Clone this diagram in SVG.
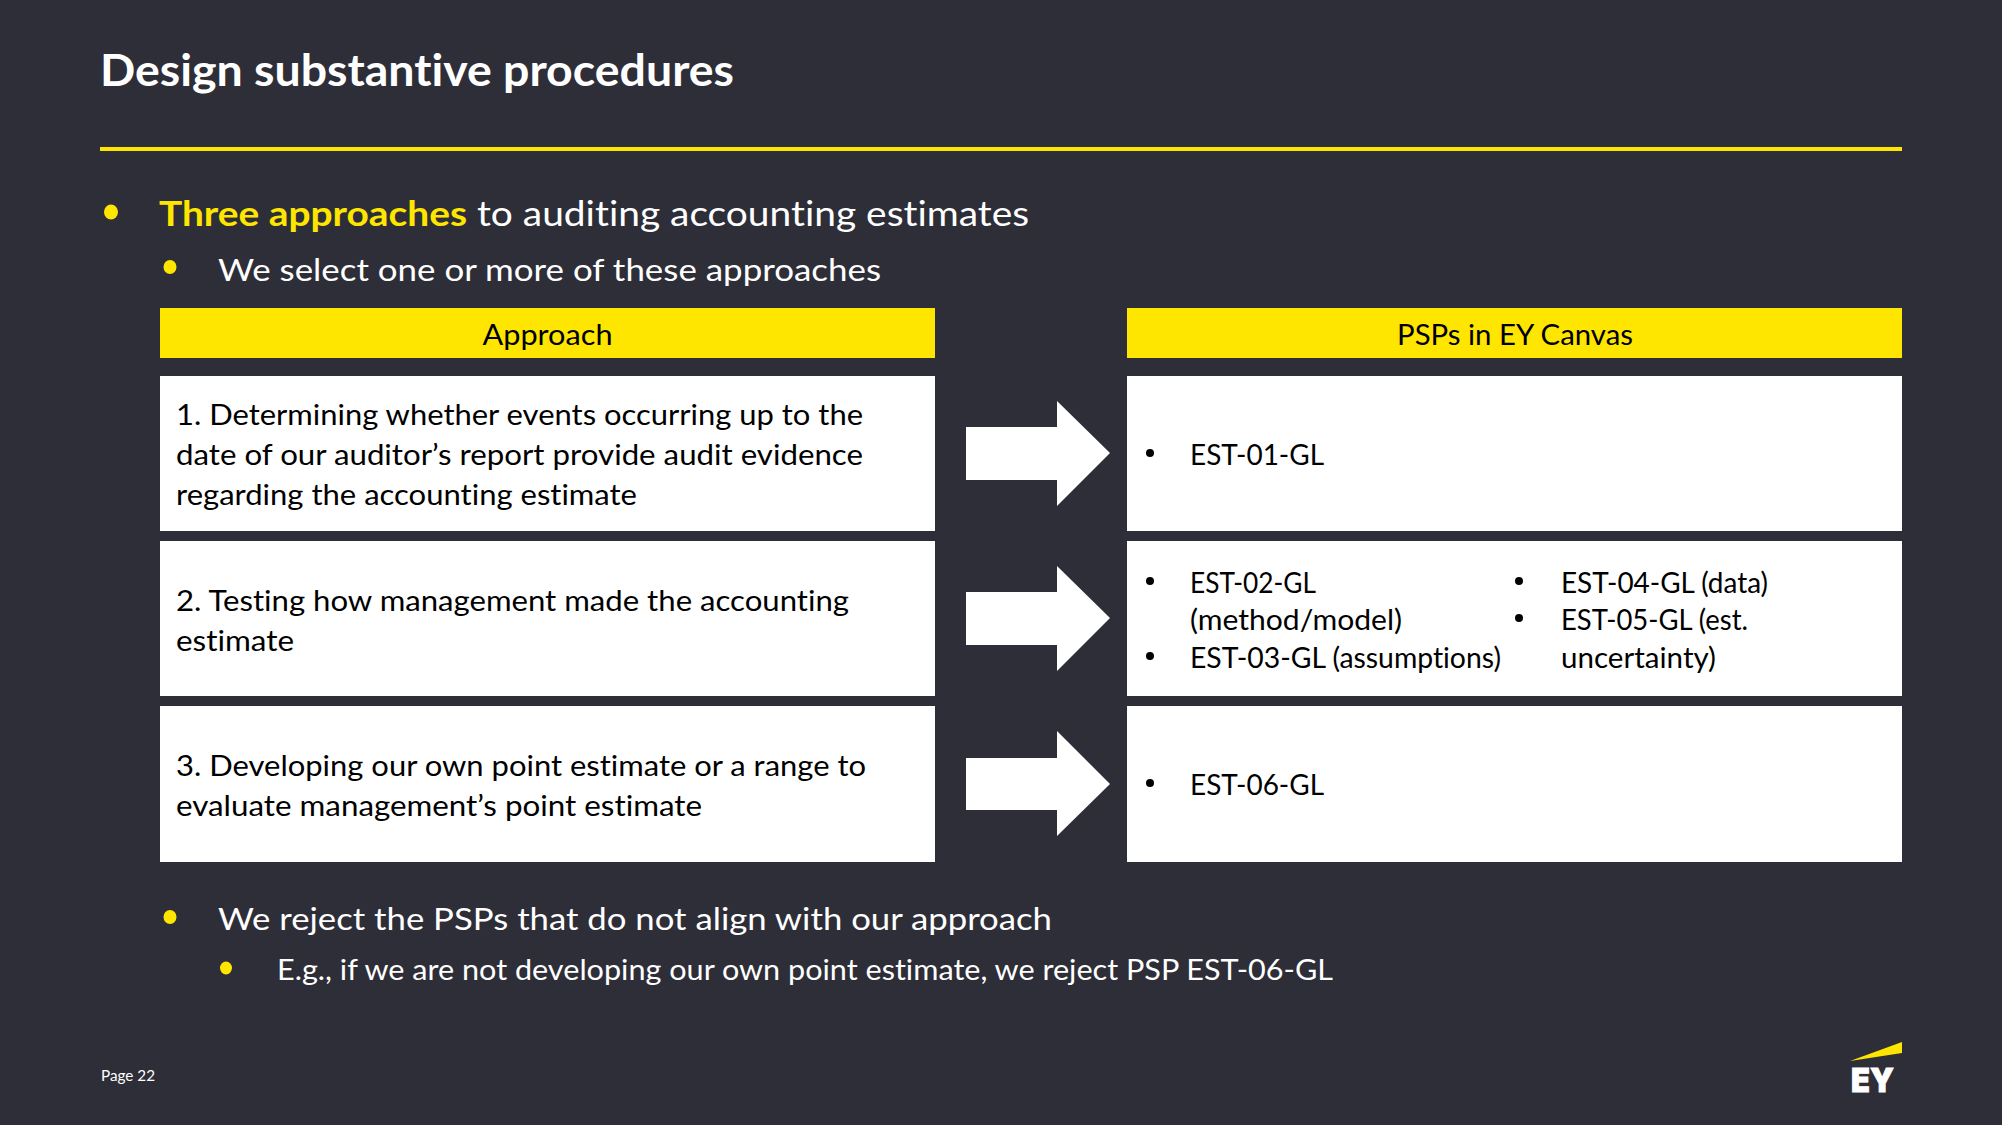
<svg xmlns="http://www.w3.org/2000/svg" width="2002" height="1125" viewBox="0 0 2002 1125">
<style>
text{font-family:"Lato","Noto Sans","Liberation Sans",sans-serif;font-size:28.5px;fill:#000;white-space:pre;font-variant-ligatures:none}
.w{fill:#fff}.y{fill:#FFE600}.box{fill:#fff}.hd{fill:#FFE600}.ar{fill:#fff}.bk{fill:#000}
.t{font-size:43px;font-weight:700;fill:#fff}
.l1{font-size:34px}.l2{font-size:31px}.l3{font-size:29px}
</style>
<rect width="2002" height="1125" fill="#2E2E38"/>
<g id="title">
<text class="t" x="100" y="86" textLength="634" lengthAdjust="spacingAndGlyphs">Design substantive procedures</text>
<rect class="y" x="100" y="147" width="1802" height="4"/>
</g>
<g id="intro">
<ellipse class="y" cx="111" cy="212" rx="7" ry="7.5"/>
<text class="l1 y" style="font-weight:700" x="159" y="226" textLength="308" lengthAdjust="spacingAndGlyphs">Three approaches</text>
<text class="l1 w" x="477" y="226" textLength="552" lengthAdjust="spacingAndGlyphs">to auditing accounting estimates</text>
<ellipse class="y" cx="170" cy="267" rx="6.5" ry="7"/>
<text class="l2 w" x="218" y="281" textLength="663" lengthAdjust="spacingAndGlyphs">We select one or more of these approaches</text>
</g>
<g id="header-approach">
<rect class="hd" x="160" y="308" width="775" height="50"/>
<text x="547.5" y="345" text-anchor="middle" textLength="130" lengthAdjust="spacingAndGlyphs">Approach</text>
</g>
<g id="header-psps">
<rect class="hd" x="1127" y="308" width="775" height="50"/>
<text x="1515" y="345" text-anchor="middle" textLength="236" lengthAdjust="spacingAndGlyphs">PSPs in EY Canvas</text>
</g>
<g id="approach-1">
<rect class="box" x="160" y="376" width="775" height="155"/>
<text x="176" y="425" textLength="687" lengthAdjust="spacingAndGlyphs">1. Determining whether events occurring up to the</text>
<text x="176" y="465" textLength="687" lengthAdjust="spacingAndGlyphs">date of our auditor’s report provide audit evidence</text>
<text x="176" y="505" textLength="461" lengthAdjust="spacingAndGlyphs">regarding the accounting estimate</text>
</g>
<g id="approach-2">
<rect class="box" x="160" y="541" width="775" height="155"/>
<text x="176" y="611" textLength="673" lengthAdjust="spacingAndGlyphs">2. Testing how management made the accounting</text>
<text x="176" y="651" textLength="118" lengthAdjust="spacingAndGlyphs">estimate</text>
</g>
<g id="approach-3">
<rect class="box" x="160" y="706" width="775" height="156"/>
<text x="176" y="776" textLength="690" lengthAdjust="spacingAndGlyphs">3. Developing our own point estimate or a range to</text>
<text x="176" y="816" textLength="526" lengthAdjust="spacingAndGlyphs">evaluate management’s point estimate</text>
</g>
<g id="psp-1">
<rect class="box" x="1127" y="376" width="775" height="155"/>
<circle class="bk" cx="1150" cy="453" r="4"/>
<text x="1190" y="465" textLength="134" lengthAdjust="spacingAndGlyphs">EST-01-GL</text>
</g>
<g id="psp-2">
<rect class="box" x="1127" y="541" width="775" height="155"/>
<circle class="bk" cx="1150" cy="581" r="4"/>
<text x="1190" y="592.5" textLength="126" lengthAdjust="spacingAndGlyphs">EST-02-GL</text>
<text x="1190" y="630" textLength="212" lengthAdjust="spacingAndGlyphs">(method/model)</text>
<circle class="bk" cx="1150" cy="656" r="4"/>
<text x="1190" y="668" textLength="311" lengthAdjust="spacingAndGlyphs">EST-03-GL (assumptions)</text>
<circle class="bk" cx="1519" cy="581" r="4"/>
<text x="1561" y="592.5" textLength="207" lengthAdjust="spacingAndGlyphs">EST-04-GL (data)</text>
<circle class="bk" cx="1519" cy="618" r="4"/>
<text x="1561" y="630" textLength="187" lengthAdjust="spacingAndGlyphs">EST-05-GL (est.</text>
<text x="1561" y="668" textLength="155" lengthAdjust="spacingAndGlyphs">uncertainty)</text>
</g>
<g id="psp-3">
<rect class="box" x="1127" y="706" width="775" height="156"/>
<circle class="bk" cx="1150" cy="783" r="4"/>
<text x="1190" y="795" textLength="134" lengthAdjust="spacingAndGlyphs">EST-06-GL</text>
</g>
<g id="connectors">
<polygon class="ar" points="966,427 1057,427 1057,401 1110,453 1057,506 1057,480 966,480"/>
<polygon class="ar" points="966,592 1057,592 1057,566 1110,618 1057,671 1057,645 966,645"/>
<polygon class="ar" points="966,758 1057,758 1057,731 1110,784 1057,836 1057,810 966,810"/>
</g>
<g id="closing">
<ellipse class="y" cx="170" cy="917" rx="6.5" ry="7"/>
<text class="l2 w" x="218" y="930" textLength="834" lengthAdjust="spacingAndGlyphs">We reject the PSPs that do not align with our approach</text>
<ellipse class="y" cx="226" cy="968" rx="6" ry="6.5"/>
<text class="l3 w" x="277" y="980" textLength="1056" lengthAdjust="spacingAndGlyphs">E.g., if we are not developing our own point estimate, we reject PSP EST-06-GL</text>
</g>
<g id="footer">
<text class="w" style="font-size:14.5px" x="101" y="1081" textLength="54" lengthAdjust="spacingAndGlyphs">Page 22</text>
</g>
<g id="logo">
<polygon class="y" points="1850,1061 1902,1042 1902,1053"/>
<text class="w" style="font-family:'Inter','Liberation Sans',sans-serif;font-weight:900;font-size:33px;stroke:#fff;stroke-width:.8" x="1851" y="1092" textLength="43" lengthAdjust="spacingAndGlyphs">EY</text>
</g>
</svg>
